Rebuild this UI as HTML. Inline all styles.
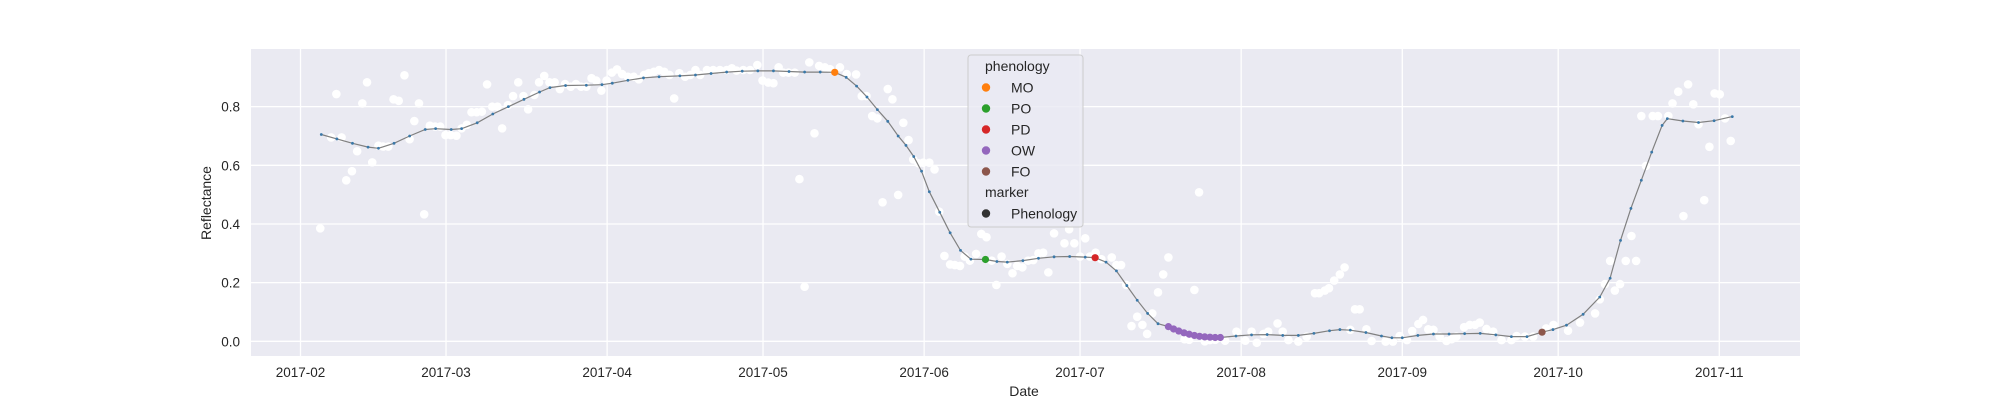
<!DOCTYPE html>
<html><head><meta charset="utf-8"><style>
html,body{margin:0;padding:0;background:#fff;}
svg{display:block;font-family:"Liberation Sans",Arial,sans-serif;}
</style></head><body>
<svg id="chart" width="2000" height="400" viewBox="0 0 2000 400" xmlns="http://www.w3.org/2000/svg">
<rect x="251" y="49" width="1549" height="307" fill="#eaeaf2"/>
<g id="grid"></g>
<g id="obs"></g>
<g id="line"></g>
<g id="pheno"></g>
<g id="ticks"></g>
<text x="1024" y="396" font-size="14" fill="#262626" text-anchor="middle">Date</text>
<text x="0" y="0" font-size="14" fill="#262626" text-anchor="middle" transform="translate(211,203) rotate(-90)">Reflectance</text>
<g>
<rect x="968" y="55" width="115" height="172" rx="3" fill="#eaeaf2" fill-opacity="0.8" stroke="#cccccc" stroke-width="1"/>
<text x="985" y="71" font-size="14" fill="#262626">phenology</text>
<circle cx="986" cy="87.5" r="4.2" fill="#ff7f0e"/>
<text x="1011" y="92.5" font-size="14" fill="#262626">MO</text>
<circle cx="986" cy="108.5" r="4.2" fill="#2ca02c"/>
<text x="1011" y="113.5" font-size="14" fill="#262626">PO</text>
<circle cx="986" cy="129.5" r="4.2" fill="#d62728"/>
<text x="1011" y="134.5" font-size="14" fill="#262626">PD</text>
<circle cx="986" cy="150.5" r="4.2" fill="#9467bd"/>
<text x="1011" y="155.5" font-size="14" fill="#262626">OW</text>
<circle cx="986" cy="171.5" r="4.2" fill="#8c564b"/>
<text x="1011" y="176.5" font-size="14" fill="#262626">FO</text>
<text x="985" y="197" font-size="14" fill="#262626">marker</text>
<circle cx="986" cy="213.5" r="4.2" fill="#333333"/>
<text x="1011" y="218.5" font-size="14" fill="#262626">Phenology</text>
</g>
</svg>
<script>
// ---- data (day-of-year 2017, value) ----
const obsDoy = [35.8,37.9,38.9,39.9,40.8,41.9,42.9,43.9,44.8,45.8,47.0,47.9,48.9,49.9,50.9,52.0,53.0,53.9,54.8,55.8,56.9,57.9,58.9,59.9,60.9,62.0,63.0,64.0,64.9,65.9,66.9,67.9,68.9,69.9,70.8,71.9,72.9,73.9,74.9,75.8,77.0,77.9,78.9,79.9,80.9,81.9,82.9,84.0,85.0,86.0,87.0,88.0,88.9,89.9,90.9,91.9,92.9,93.9,95.0,96.1,97.1,98.1,99.0,100.0,101.0,102.0,103.0,103.9,104.9,106.0,107.0,108.0,108.9,110.2,111.4,112.7,114.0,115.0,115.9,117.2,118.5,119.9,120.9,122.0,123.0,124.0,124.9,125.9,127.1,128.0,129.0,129.9,130.9,131.8,132.9,133.9,135.8,137.1,138.9,140.0,140.9,142.0,143.0,144.0,145.0,145.9,147.0,148.0,149.0,149.9,150.9,151.8,153.0,154.0,154.9,155.9,157.0,157.9,158.9,159.8,160.8,162.0,163.0,164.0,165.0,165.9,166.9,168.0,169.0,169.9,170.9,172.0,173.0,174.0,174.9,175.9,177.0,179.0,179.9,180.9,182.0,183.0,183.9,185.0,186.1,188.1,189.0,189.9,190.9,191.9,193.0,194.0,194.9,195.9,197.0,198.0,199.0,202.1,203.0,204.0,204.9,206.0,207.0,208.0,209.9,212.1,213.8,215.0,216.0,217.3,218.2,220.0,221.0,222.1,224.0,225.6,227.2,228.0,229.1,229.9,230.9,232.0,232.9,234.0,234.9,235.8,237.1,238.1,240.8,242.2,243.5,244.9,245.9,247.1,248.0,249.0,250.0,251.2,252.5,253.5,254.4,255.9,257.0,258.0,258.9,260.2,261.5,263.1,265.0,266.0,267.6,269.2,271.7,273.1,275.9,278.2,281.1,282.0,283.0,284.0,284.9,285.9,287.0,288.1,289.0,290.0,290.9,292.2,293.2,295.2,296.0,297.1,298.1,299.0,300.0,301.0,302.1,303.1,304.1,305.1,306.1,307.2];
const obsVal = [0.385,0.695,0.843,0.695,0.549,0.580,0.648,0.811,0.883,0.610,0.667,0.664,0.664,0.825,0.820,0.907,0.689,0.751,0.811,0.433,0.735,0.732,0.732,0.703,0.703,0.701,0.726,0.738,0.781,0.781,0.783,0.876,0.800,0.800,0.726,0.805,0.836,0.883,0.836,0.791,0.840,0.883,0.905,0.883,0.883,0.860,0.877,0.868,0.877,0.868,0.868,0.897,0.889,0.855,0.889,0.916,0.927,0.911,0.902,0.902,0.893,0.908,0.914,0.919,0.925,0.919,0.908,0.828,0.914,0.902,0.908,0.925,0.908,0.925,0.925,0.925,0.925,0.931,0.923,0.925,0.925,0.942,0.889,0.882,0.880,0.934,0.916,0.916,0.916,0.553,0.186,0.951,0.709,0.939,0.934,0.928,0.934,0.911,0.910,0.836,0.836,0.768,0.760,0.474,0.860,0.825,0.499,0.745,0.686,0.620,0.607,0.609,0.609,0.586,0.442,0.291,0.262,0.260,0.257,0.289,0.275,0.298,0.366,0.355,0.275,0.192,0.289,0.264,0.232,0.257,0.252,0.275,0.277,0.300,0.302,0.235,0.368,0.334,0.382,0.334,0.289,0.351,0.289,0.302,0.280,0.286,0.260,0.260,0.192,0.052,0.084,0.056,0.025,0.095,0.167,0.228,0.286,0.007,0.005,0.175,0.508,0.000,0.004,0.005,0.002,0.033,0.002,0.033,-0.005,0.025,0.033,0.061,0.033,0.004,-0.001,0.016,0.164,0.164,0.173,0.181,0.207,0.228,0.252,0.039,0.109,0.109,0.041,0.001,-0.001,-0.001,0.018,0.004,0.035,0.059,0.073,0.041,0.039,0.016,0.001,0.007,0.016,0.048,0.056,0.056,0.064,0.042,0.033,0.004,0.004,0.018,0.016,0.016,0.044,0.056,0.036,0.064,0.095,0.143,0.195,0.274,0.173,0.195,0.274,0.359,0.274,0.768,0.598,0.768,0.768,0.768,0.811,0.851,0.427,0.876,0.808,0.740,0.481,0.663,0.845,0.842,0.760,0.683];
const lineDoy = [36,39,42,45,47,50,53,56,58,61,63,66,69,72,75,78,80,83,87,90,92,95,98,101,105,108,111,114,117,120,123,126,129,132,134.8,137,139,141,143,145,147,148.5,150,151.5,153,155,157,159,161,163.8,166,168,171,174,177,180,183,184.9,187,189,191,193,195,197,199,200,201,202,203,204,205,206,207,208,209,212,215,218,221,224,227,230,232,234,237,240,242,244,247,250,253,256,259,262,265,268,270.9,273,275.6,278.8,282,284,286,288,290,292,294,295,298,301,304,307.5];
const lineVal = [0.705,0.69,0.675,0.662,0.658,0.675,0.70,0.722,0.725,0.722,0.725,0.745,0.775,0.80,0.825,0.85,0.865,0.872,0.873,0.875,0.88,0.89,0.898,0.902,0.905,0.908,0.913,0.918,0.921,0.922,0.922,0.92,0.918,0.918,0.917,0.90,0.87,0.833,0.79,0.75,0.70,0.668,0.63,0.58,0.51,0.44,0.37,0.31,0.28,0.279,0.272,0.27,0.275,0.283,0.288,0.289,0.287,0.285,0.27,0.24,0.19,0.14,0.095,0.06,0.05,0.042,0.035,0.029,0.024,0.02,0.017,0.015,0.014,0.013,0.013,0.018,0.022,0.023,0.02,0.02,0.027,0.036,0.04,0.038,0.03,0.018,0.012,0.012,0.02,0.025,0.025,0.026,0.027,0.022,0.016,0.016,0.031,0.04,0.055,0.092,0.151,0.215,0.344,0.453,0.549,0.645,0.736,0.759,0.751,0.746,0.752,0.766];
const phenoNames = ["MO","PO","PD","OW","OW","OW","OW","OW","OW","OW","OW","OW","OW","OW","FO"];
const phenoDoy = [134.8,163.8,184.9,199,200,201,202,203,204,205,206,207,208,209,270.9];
const phenoVal = [0.917,0.279,0.285,0.05,0.042,0.035,0.029,0.024,0.02,0.017,0.015,0.014,0.013,0.013,0.031];
const phenoColors = {MO:"#ff7f0e",PO:"#2ca02c",PD:"#d62728",OW:"#9467bd",FO:"#8c564b"};
const xTickDoy = [32,60,91,121,152,182,213,244,274,305];
const xTickLabels = ["2017-02","2017-03","2017-04","2017-05","2017-06","2017-07","2017-08","2017-09","2017-10","2017-11"];
const yTicks = [0.0,0.2,0.4,0.6,0.8];
const yTickLabels = ["0.0","0.2","0.4","0.6","0.8"];

// ---- axes ----
function xs(d){ return 300.5 + (d-32)*5.197; }
function ys(v){ return 341.3 - v*293.3; }
const NS="http://www.w3.org/2000/svg";
function mk(tag, attrs, parent){ const e=document.createElementNS(NS,tag); for(const k in attrs) e.setAttribute(k,attrs[k]); parent.appendChild(e); return e; }
const grid=document.getElementById('grid'), ticks=document.getElementById('ticks');
xTickDoy.forEach((d,i)=>{
  const l=mk('line',{x1:xs(d),x2:xs(d),y1:49,y2:356,stroke:'#fff','stroke-width':1.3},grid);
  
  
  const t=mk('text',{x:xs(d),y:377,'font-size':13.5,fill:'#262626','text-anchor':'middle'},ticks);
  t.textContent=xTickLabels[i];
  
  
});
yTicks.forEach((v,i)=>{
  const l=mk('line',{x1:251,x2:1800,y1:ys(v),y2:ys(v),stroke:'#fff','stroke-width':1.3},grid);
  
  
  const t=mk('text',{x:240,y:ys(v)+5,'font-size':13.5,fill:'#262626','text-anchor':'end'},ticks);
  t.textContent=yTickLabels[i];
  
  
});
// observations
const obs=document.getElementById('obs');
obsDoy.forEach((d,i)=>{
  const c=mk('circle',{cx:xs(d),cy:ys(obsVal[i]),r:4.3,fill:'#ffffff'},obs);
  
  
});
// smoothed line
const lg=document.getElementById('line');
const pts=lineDoy.map((d,i)=>xs(d).toFixed(1)+','+ys(lineVal[i]).toFixed(1)).join(' ');
const pl=mk('polyline',{points:pts,fill:'none',stroke:'#808080','stroke-width':1.2},lg);


lineDoy.forEach((d,i)=>{
  const c=mk('circle',{cx:xs(d),cy:ys(lineVal[i]),r:1.4,fill:'#3a78a8'},lg);
  
  
});
// phenology markers
const pg=document.getElementById('pheno');
phenoDoy.forEach((d,i)=>{
  const c=mk('circle',{cx:xs(d),cy:ys(phenoVal[i]),r:3.6,fill:phenoColors[phenoNames[i]]},pg);
  
  
});
</script>
</body></html>
